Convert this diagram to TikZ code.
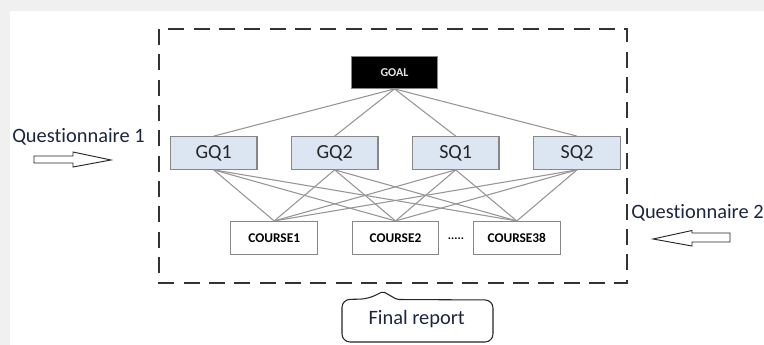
\documentclass[tikz,border=0pt]{standalone}
\usepackage{fontspec}
\setmainfont{Carlito}[Ligatures=NoCommon]
\definecolor{qfill}{RGB}{220,230,242}
\definecolor{boxline}{RGB}{135,135,135}
\definecolor{linkgray}{RGB}{150,150,150}
\definecolor{navytext}{RGB}{28,38,64}
\definecolor{margin}{RGB}{240,240,240}

\tikzset{
  qbox/.style={draw=boxline, fill=qfill, line width=0.8pt, minimum width=64.9pt,
    minimum height=24.5pt, inner sep=0pt, text=black!85, font=\fontsize{15}{18}\selectfont},
  coursebox/.style={draw=boxline, fill=white, line width=0.8pt, minimum width=64.9pt,
    minimum height=24.5pt, inner sep=0pt, font=\fontsize{10}{12}\selectfont\bfseries},
  goalbox/.style={draw=boxline, fill=black, minimum width=64.3pt, minimum height=24.5pt,
    inner sep=0pt, text=white!90!black, font=\fontsize{9}{11}\selectfont\bfseries},
  link/.style={draw=linkgray, line width=0.8pt},
  note/.style={text=navytext, inner sep=0pt, font=\fontsize{15.3}{18}\selectfont},
  hollow/.style={draw=black!85, fill=white, line width=0.7pt, line join=miter}
}

\begin{document}
\begin{tikzpicture}[x=0.75pt,y=-0.75pt]
\useasboundingbox (0,0) rectangle (764,345);
\fill[white] (0,0) rectangle (764,345);
\fill[margin] (0,0) rectangle (764,11);
\fill[margin] (0,0) rectangle (10,345);

% frame
\draw[dash pattern=on 12pt off 7pt, line width=1.1pt, black!80] (159,29) rectangle (627,283);

% hierarchy
\node[goalbox] (goal) at (394.5,72.3) {GOAL};
\node[qbox] (gq1) at (213.7,153) {GQ1};
\node[qbox] (gq2) at (334.7,153) {GQ2};
\node[qbox] (sq1) at (455.7,153) {SQ1};
\node[qbox] (sq2) at (577,153) {SQ2};
\node[coursebox] (course1) at (274.2,237.8) {COURSE1};
\node[coursebox] (course2) at (395.5,237.8) {COURSE2};
\node[coursebox] (course38) at (516.8,237.8) {COURSE38};
\node[font=\fontsize{9}{12}\selectfont\bfseries, inner sep=0pt] (dots) at (456,239) {.....};

\foreach \q in {gq1,gq2,sq1,sq2}
{
\draw[link] (goal.south) -- (\q.north);
}
\foreach \q in {gq1,gq2,sq1,sq2}
\foreach \c in {course1,course2,course38}
{
\draw[link] (\q.south) -- (\c.north);
}

% questionnaires
\node[note, anchor=west] (quest1) at (12,137) {Questionnaire 1};
\draw[hollow] (34,156) -- (73,156) -- (73,152) -- (111,160) -- (73,167) -- (73,163) -- (34,163) -- cycle;
\node[note, anchor=west] (quest2) at (631,213) {Questionnaire 2};
\draw[hollow] (730,233) -- (692,233) -- (692,230.5) -- (653,239) -- (692,246) -- (692,242) -- (730,242) -- cycle;

% report
\draw[black!85, line width=0.8pt] (342,312) [rounded corners=6pt] -- (342,299.5) -- (368,299) [rounded corners=1.5pt] -- (383,291.5) -- (397,299.5) [rounded corners=6pt] -- (493,300) -- (493,342) -- (342,342) -- (342,312);
\node[note] (report) at (416.7,319) {Final report};
\end{tikzpicture}
\end{document}
